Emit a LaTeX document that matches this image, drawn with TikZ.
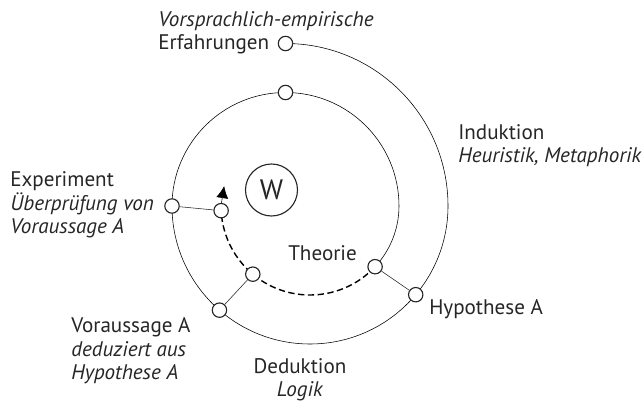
\documentclass[tikz,border=0pt]{standalone}
\usepackage{fontspec}
\setmainfont{PT Sans}
\usetikzlibrary{calc,positioning,arrows.meta,backgrounds}
\pgfdeclarelayer{back}
\pgfsetlayers{background,back,main}

\begin{document}
\begin{tikzpicture}[
  line width=.8pt,
  color=black!85,
  punkt/.style={circle,draw,fill=white,inner sep=0pt,minimum size=.36cm},
  txt/.style={font=\fontsize{15}{16.9}\selectfont,inner sep=0pt,align=left},
  ]
  \useasboundingbox (0,0) rectangle (16.075,10.075);

  % centres of the upper and lower half circles
  \coordinate (mo) at (7.1375,4.925);
  \coordinate (mu) at (7.75,4.925);

  \node (erf) [punkt] at($(mo)+(90:4.0625)$) {};
  \node (hyp) [punkt] at($(mu)+(-40:3.45)$) {};
  \node (vor) [punkt] at($(mu)+(-131:3.45)$) {};
  \node (exp) [punkt] at($(mo)+(180:2.8375)$) {};
  \node (oben) [punkt] at($(mo)+(90:2.8375)$) {};
  \node (theo) [punkt] at($(mu)+(-43:2.225)$) {};
  \node (strich) [punkt] at($(mu)+(-130:2.225)$) {};
  \node (pfeil) [punkt] at($(mu)+(-177:2.225)$) {};
  \coordinate (spitze) at($(mo)+(162:1.6125)$);

  \node (w) [circle,draw,minimum size=1.3cm,font=\fontsize{20}{20}\selectfont] at(6.7875,5.325) {W};

  \begin{pgfonlayer}{back}
    \draw (erf.center) arc[start angle=90,end angle=0,radius=4.0625]
      arc[start angle=0,end angle=-180,radius=3.45]
      arc[start angle=180,end angle=0,radius=2.8375]
      arc[start angle=0,end angle=-43,radius=2.225];
    \draw[line width=1pt,dash pattern=on 4.5pt off 2.5pt] (theo.center) arc[start angle=-43,end angle=-177,radius=2.225];
    \draw[-{Latex[length=3mm,width=3mm]}] (pfeil.center) arc[start angle=-177,end angle=-180,radius=2.225] -- (spitze);
  \end{pgfonlayer}

  \draw (exp) -- (pfeil);
  \draw (vor) -- (strich);
  \draw (hyp) -- (theo);

  % base anchor = baseline of the last line
  \node (erf_txt) [txt,anchor=base west] at(3.95,8.825) {\textit{Vorsprachlich-empirische}\\Erfahrungen};
  \node (ind_txt) [txt,anchor=base west] at(11.45,6.0) {Induktion\\\textit{Heuristik, Metaphorik}};
  \node (exp_txt) [txt,anchor=base west] at(0.25,4.225) {Experiment\\\textit{Überprüfung von}\\\textit{Voraussage A}};
  \node (vor_txt) [txt,anchor=base west] at(1.775,0.575) {Voraussage A\\\textit{deduziert aus}\\\textit{Hypothese A}};
  \node (theo_txt) [txt,anchor=base west] at(7.2,3.55) {Theorie};
  \node (hyp_txt) [txt,anchor=base west] at(10.725,2.2) {Hypothese A};
  \node (ded_txt) [txt,align=center,anchor=base] at(7.5,0.15) {Deduktion\\\textit{Logik}};

\end{tikzpicture}
\end{document}
